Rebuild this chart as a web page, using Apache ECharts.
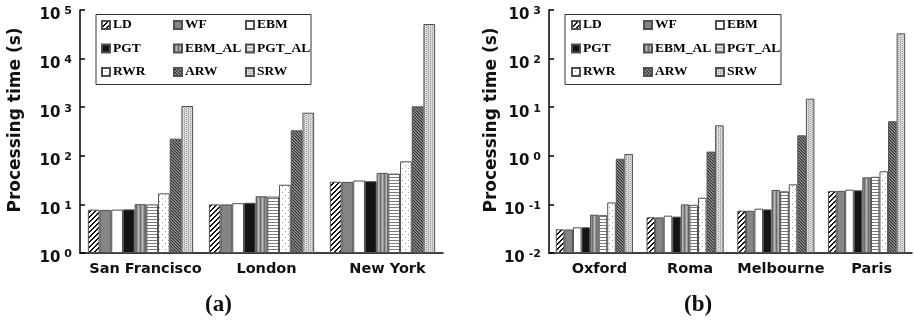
<!DOCTYPE html>
<html>
<head>
<meta charset="utf-8">
<script src="https://cdn.jsdelivr.net/npm/echarts@6/dist/echarts.min.js"></script>
<style>
  html, body { margin: 0; padding: 0; background: #fff; }
  #chart { width: 915px; height: 326px; }
</style>
</head>
<body>
<div id="chart"></div>
<script>
// Methods compared, in bar order within each city group
const methods = ['LD', 'WF', 'EBM', 'PGT', 'EBM_AL', 'PGT_AL', 'RWR', 'ARW', 'SRW'];

// (a) large cities
const citiesA = ['San Francisco', 'London', 'New York'];
const sanFrancisco = [7.8, 7.7, 7.8, 7.9, 10.1, 10.0, 16.9, 225, 1060];
const london       = [10.0, 10.0, 10.6, 10.8, 14.7, 14.5, 25.4, 334, 771];
const newYork      = [29.3, 29.0, 31.0, 30.0, 44.5, 43.0, 77, 1040, 51500];

// (b) smaller cities
const citiesB = ['Oxford', 'Roma', 'Melbourne', 'Paris'];
const oxford    = [0.0307, 0.0305, 0.0338, 0.0338, 0.0614, 0.060, 0.110, 0.87, 1.09];
const roma      = [0.0543, 0.054, 0.0586, 0.056, 0.100, 0.098, 0.137, 1.22, 4.24];
const melbourne = [0.0743, 0.074, 0.0817, 0.079, 0.198, 0.186, 0.259, 2.64, 14.96];
const paris     = [0.189, 0.190, 0.201, 0.195, 0.361, 0.37, 0.48, 5.13, 331];

const groupA = [sanFrancisco, london, newYork];
const groupB = [oxford, roma, melbourne, paris];

// Pixel-level fill patterns used for the monochrome bars
function pattern(w, h, painter) {
  const c = document.createElement('canvas');
  c.width = w; c.height = h;
  const g = c.getContext('2d');
  for (let y = 0; y < h; y++) {
    for (let x = 0; x < w; x++) {
      g.fillStyle = painter(x, y);
      g.fillRect(x, y, 1, 1);
    }
  }
  return { image: c, repeat: 'repeat' };
}

const fills = {
  LD: pattern(5, 5, (x, y) => ((x + y) % 5 < 2 ? '#111' : '#fff')),
  WF: '#858585',
  EBM: '#ffffff',
  PGT: '#141414',
  EBM_AL: pattern(4, 1, (x) => ['#6f6f6f', '#959595', '#b9b9b9', '#959595'][x]),
  PGT_AL: pattern(1, 3, (x, y) => (y === 0 ? '#7a7a7a' : '#ffffff')),
  RWR: pattern(6, 6, (x, y) => ((x === 0 && y === 0) || (x === 3 && y === 3) ? '#9a9a9a' : '#ffffff')),
  ARW: pattern(3, 3, (x, y) => ((x - y + 3) % 3 === 0 ? '#2e2e2e' : ((x - y + 3) % 3 === 1 ? '#9a9a9a' : '#6a6a6a'))),
  SRW: pattern(4, 4, (x, y) => (((x + 2 * (y % 2 === 0 ? 0 : 1)) % 4 === 0) ? '#9c9c9c' : (y % 2 === 0 ? '#e2e2e2' : '#cfcfcf')))
};

const sansBold = { fontFamily: 'DejaVu Sans', fontWeight: 'bold', color: '#111' };

function decadeLabel(v) {
  const e = Math.round(Math.log10(v));
  return '{b|10}{s|' + e + '}';
}

const labelRich = {
  b: { fontFamily: 'DejaVu Sans', fontWeight: 'bold', fontSize: 15, lineHeight: 17, color: '#111', verticalAlign: 'bottom' },
  s: { fontFamily: 'DejaVu Sans', fontWeight: 'bold', fontSize: 11, lineHeight: 11, color: '#111', verticalAlign: 'top', padding: [0, 0, 12, 4] }
};

function makeXAxis(idx, cats) {
  return {
    type: 'category', gridIndex: idx, data: cats,
    axisLine: { lineStyle: { color: '#000', width: 1.5 } },
    axisTick: { inside: true, length: 5, lineStyle: { color: '#000', width: 1.5 } },
    axisLabel: Object.assign({ fontSize: 14.5, margin: 9, interval: 0, hideOverlap: false, padding: [0, 0, 0, 10] }, sansBold)
  };
}

function makeYAxis(idx, min, max, gap) {
  return {
    type: 'log', logBase: 10, gridIndex: idx, min: min, max: max, startValue: min,
    axisLine: { show: true, lineStyle: { color: '#000', width: 1.5 } },
    axisTick: { show: true, inside: true, length: 5, lineStyle: { color: '#000', width: 1.5 } },
    splitLine: { show: false },
    minorTick: { show: false },
    axisLabel: { formatter: decadeLabel, rich: labelRich, margin: 8, padding: [9, 0, 0, 0] },
    name: 'Processing time (s)', nameLocation: 'middle', nameGap: gap,
    nameTextStyle: Object.assign({ fontSize: 17, padding: [0, 0, 0, 23] }, sansBold)
  };
}

function makeSeries(idx, group, catGap) {
  return methods.map((m, k) => ({
    name: m, type: 'bar', xAxisIndex: idx, yAxisIndex: idx,
    data: group.map(city => city[k]),
    barGap: '0%', barCategoryGap: catGap,
    itemStyle: { color: fills[m], borderColor: '#505050', borderWidth: 1 },
    emphasis: { disabled: true }
  }));
}

// Legend laid out as three columns of three entries each
const legendColumns = [['LD', 'PGT', 'RWR'], ['WF', 'EBM_AL', 'ARW'], ['EBM', 'PGT_AL', 'SRW']];
function makeLegends(xs) {
  return legendColumns.map((col, i) => ({
    orient: 'vertical', left: xs[i], top: 17, padding: 0,
    itemWidth: 8, itemHeight: 8, itemGap: 7.5, icon: 'rect',
    selectedMode: false, z: 5, data: col,
    textStyle: { fontFamily: 'Liberation Serif', fontWeight: 'bold', fontSize: 13.5, lineHeight: 16, color: '#000', padding: [0, 0, 0, -2] }
  }));
}

const option = {
  animation: false,
  backgroundColor: '#fff',
  grid: [
    { left: 80, right: 472, top: 10, bottom: 73 },
    { left: 549, right: 3, top: 10, bottom: 73 }
  ],
  xAxis: [makeXAxis(0, citiesA), makeXAxis(1, citiesB)],
  yAxis: [makeYAxis(0, 1, 100000, 56), makeYAxis(1, 0.01, 1000, 47)],
  legend: makeLegends([101, 173, 245]).concat(makeLegends([571, 643, 715])),
  graphic: [
    { type: 'rect', z: 1, shape: { x: 96, y: 14.5, width: 215, height: 70 }, style: { fill: '#fff', stroke: '#333', lineWidth: 1 } },
    { type: 'rect', z: 1, shape: { x: 565, y: 14.5, width: 216, height: 70 }, style: { fill: '#fff', stroke: '#333', lineWidth: 1 } }
  ],
  title: [
    { text: '(a)', left: 205, top: 294, padding: 0, textStyle: { fontFamily: 'Liberation Serif', fontWeight: 'bold', fontSize: 23, color: '#111' } },
    { text: '(b)', left: 684, top: 294, padding: 0, textStyle: { fontFamily: 'Liberation Serif', fontWeight: 'bold', fontSize: 23, color: '#111' } }
  ],
  series: makeSeries(0, groupA, '13%').concat(makeSeries(1, groupB, '15%'))
};

const chart = echarts.init(document.getElementById('chart'), null, { renderer: 'canvas' });
chart.setOption(option);
</script>
</body>
</html>
